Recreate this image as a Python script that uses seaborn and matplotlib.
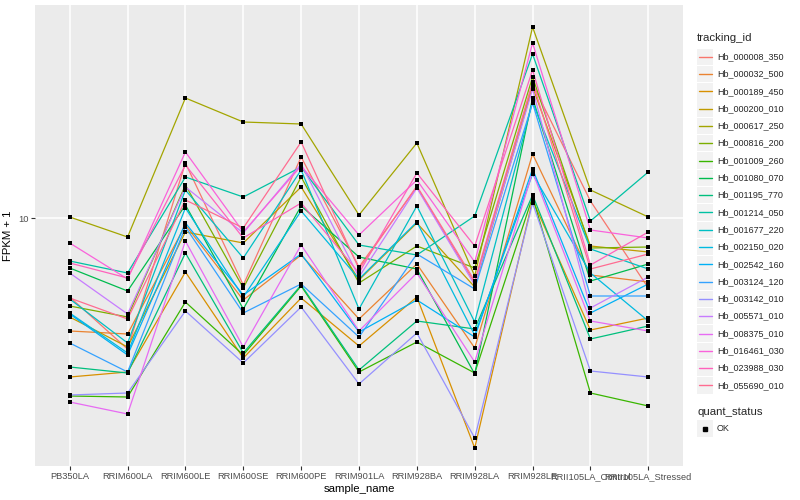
import matplotlib
matplotlib.use("Agg")
import matplotlib.pyplot as plt
import pandas as pd
import seaborn as sns
from matplotlib.lines import Line2D
from matplotlib.patches import Rectangle
from matplotlib.ticker import NullLocator

# samples along the x axis
sample_names = [
    "PB350LA", "RRIM600LA", "RRIM600LE", "RRIM600SE", "RRIM600PE",
    "RRIM901LA", "RRIM928BA", "RRIM928LA", "RRIM928LE",
    "RRII105LA_Control", "RRII105LA_Stressed",
]

tracking_ids = [
    "Hb_000008_350", "Hb_000032_500", "Hb_000189_450", "Hb_000200_010",
    "Hb_000617_250", "Hb_000816_200", "Hb_001009_260", "Hb_001080_070",
    "Hb_001195_770", "Hb_001214_050", "Hb_001677_220", "Hb_002150_020",
    "Hb_002542_160", "Hb_003124_120", "Hb_003142_010", "Hb_005571_010",
    "Hb_008375_010", "Hb_016461_030", "Hb_023988_030", "Hb_055690_010",
]

# ggplot default hue palette for 20 levels
hue_colors = [
    "#F8766D", "#EA8331", "#D89000", "#C09B00", "#A3A500", "#7CAE00",
    "#39B600", "#00BB4E", "#00BF7D", "#00C1A3", "#00BFC4", "#00BAE0",
    "#00B0F6", "#35A2FF", "#9590FF", "#C77CFF", "#E76BF3", "#FA62DB",
    "#FF62BC", "#FF6C91",
]

# log10(FPKM + 1), one row per tracking_id, one value per sample
log_fpkm = [
    [0.8025, 0.6725, 1.1375, 0.8325, 1.1525, 0.8775, 1.0775, 0.8375, 1.335, 1.0425, 0.825],
    [0.7175, 0.71, 0.9825, 0.795, 0.9075, 0.7475, 0.885, 0.675, 1.16, 0.8575, 0.84],
    [0.6025, 0.615, 0.865, 0.65, 0.8, 0.68, 0.8025, 0.425, 1.045, 0.72, 0.75],
    [0.7525, 0.6775, 0.965, 0.9375, 1.0775, 0.845, 0.9875, 0.8275, 1.3275, 0.93, 0.915],
    [1.0025, 0.9525, 1.3, 1.24, 1.235, 1.0075, 1.1875, 0.855, 1.4775, 1.07, 1.0025],
    [0.78, 0.7525, 1.0825, 0.825, 1.1025, 0.8375, 0.93, 0.875, 1.3525, 0.925, 0.9275],
    [0.555, 0.5525, 0.79, 0.6575, 0.83, 0.615, 0.69, 0.6125, 1.0525, 0.5625, 0.53],
    [0.875, 0.8175, 1.0325, 0.7725, 1.03, 0.9025, 0.8725, 0.61, 1.3, 0.8425, 0.885],
    [0.6275, 0.6125, 0.9125, 0.6625, 0.8325, 0.62, 0.7425, 0.7225, 1.0575, 0.6975, 0.73],
    [0.8925, 0.8625, 1.1025, 1.0525, 1.1275, 0.9325, 0.9075, 1.005, 1.41, 0.9925, 1.115],
    [0.7975, 0.6875, 1.07, 0.9, 1.12, 0.7725, 1.03, 0.74, 1.29, 0.9225, 0.8725],
    [0.7625, 0.6625, 1.025, 0.8025, 1.0175, 0.8475, 0.99, 0.7075, 1.11, 0.8625, 0.7425],
    [0.76, 0.6575, 0.9875, 0.8075, 0.91, 0.715, 0.795, 0.7025, 1.1225, 0.7625, 0.835],
    [0.6875, 0.615, 0.9775, 0.7625, 0.835, 0.7025, 0.91, 0.8225, 1.2875, 0.805, 0.805],
    [0.5575, 0.5625, 0.7675, 0.6375, 0.7775, 0.585, 0.7125, 0.45, 1.0375, 0.6175, 0.6025],
    [0.8625, 0.76, 1.0775, 0.9625, 1.135, 0.8525, 1.075, 0.8325, 1.3225, 0.775, 0.8525],
    [0.54, 0.51, 0.9425, 0.6775, 0.9325, 0.7175, 0.8625, 0.64, 1.115, 0.7425, 0.7175],
    [0.9375, 0.8475, 1.165, 0.965, 1.13, 0.9575, 1.095, 0.89, 1.4375, 0.97, 0.95],
    [0.8875, 0.85, 1.1325, 0.95, 1.0375, 0.8625, 1.1125, 0.93, 1.37, 0.8825, 0.965],
    [0.8, 0.7475, 1.045, 0.975, 1.19, 0.8725, 1.08, 0.8425, 1.34, 0.8725, 0.91],
]

rows = []
for tid, vals in zip(tracking_ids, log_fpkm):
    for i, (s, v) in enumerate(zip(sample_names, vals)):
        rows.append({"tracking_id": tid, "sample_name": s, "pos": i,
                     "fpkm": 10 ** v, "quant_status": "OK"})
df = pd.DataFrame(rows)

sns.set_theme(style="darkgrid")
plt.rcParams["font.family"] = ["Liberation Sans", "DejaVu Sans"]

W, H = 800, 500
fig = plt.figure(figsize=(8, 5), dpi=100)
fig.patch.set_facecolor("white")
ax = fig.add_axes([35 / W, 1 - 466 / H, (683 - 35) / W, (466 - 5) / H])
ax.set_facecolor("#EBEBEB")

sns.lineplot(data=df, x="pos", y="fpkm", hue="tracking_id", hue_order=tracking_ids,
             palette=hue_colors, estimator=None, sort=False, linewidth=0.9,
             legend=False, ax=ax)
sns.scatterplot(data=df, x="pos", y="fpkm", color="black", marker="s", s=10,
                linewidth=0, legend=False, ax=ax, zorder=3)

ax.set_yscale("log")
ax.set_ylim(10 ** 0.38, 10 ** 1.5325)
ax.set_yticks([10])
ax.set_yticklabels(["10"])
ax.yaxis.set_minor_locator(NullLocator())
ax.set_xlim(-0.6, 10.6)
ax.set_xticks(range(len(sample_names)))
ax.set_xticklabels(sample_names)
ax.grid(True, which="major", color="white", linewidth=1.1)
ax.set_axisbelow(True)
for sp in ax.spines.values():
    sp.set_visible(False)
ax.tick_params(axis="both", length=2.7, width=0.8, color="#333333",
               labelsize=6.7, labelcolor="#4D4D4D", pad=1.5, bottom=True, left=True)
ax.set_xlabel("sample_name", fontsize=8.2, labelpad=2, color="black")
ax.set_ylabel("FPKM + 1", fontsize=8.2, labelpad=4, color="black")


# hand-built ggplot style legend
def fx(x):
    return x / W


def fy(y):
    return 1 - y / H


fig.text(fx(697), fy(38), "tracking_id", fontsize=8.2, va="center", ha="left")
for i, (tid, col) in enumerate(zip(tracking_ids, hue_colors)):
    yc = 56.7 + i * 17.3
    fig.add_artist(Rectangle((fx(697), fy(yc + 8.2)), 16.4 / W, 16.4 / H,
                             transform=fig.transFigure, facecolor="#F2F2F2",
                             edgecolor="none"))
    fig.add_artist(Line2D([fx(698.5), fx(711.5)], [fy(yc), fy(yc)],
                          transform=fig.transFigure, color=col, linewidth=1.0))
    fig.text(fx(717), fy(yc), tid, fontsize=6.5, va="center", ha="left")

fig.text(fx(697), fy(411.7), "quant_status", fontsize=8.2, va="center", ha="left")
fig.add_artist(Rectangle((fx(697), fy(428.5 + 8.2)), 16.4 / W, 16.4 / H,
                         transform=fig.transFigure, facecolor="#F2F2F2",
                         edgecolor="none"))
fig.add_artist(Line2D([fx(705)], [fy(428.5)], transform=fig.transFigure,
                      marker="s", markersize=3, color="black", linestyle="none"))
fig.text(fx(717), fy(428.5), "OK", fontsize=6.5, va="center", ha="left")

fig.savefig("out.png", dpi=100)
